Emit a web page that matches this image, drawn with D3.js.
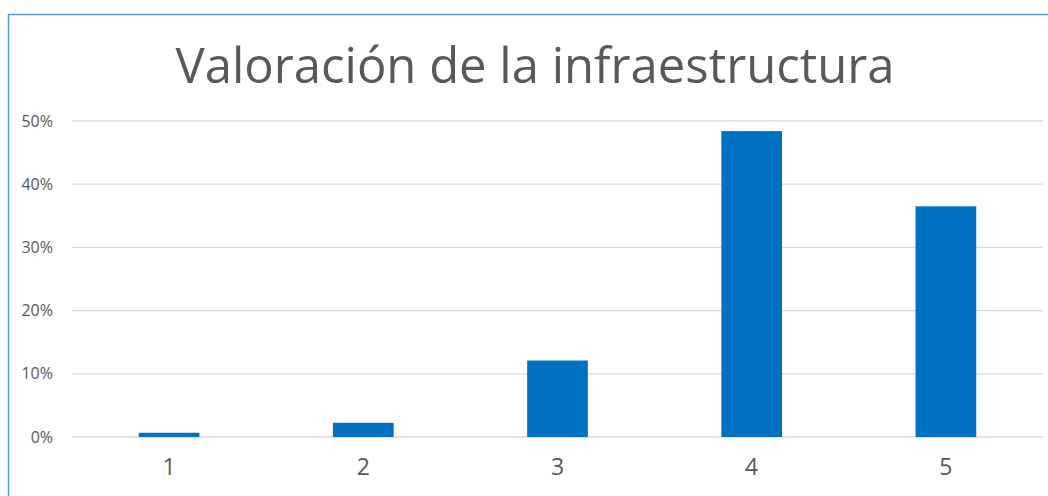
<!DOCTYPE html>
<html>
<head>
<meta charset="utf-8">
<script src="https://cdn.jsdelivr.net/npm/d3@7"></script>
<style>
  body { margin: 0; background: #fff; }
  text { font-family: "Open Sans", sans-serif; fill: #595959; }
</style>
</head>
<body>
<div class="svg_container"></div>
<script>
// chart data
var categories = ["1", "2", "3", "4", "5"];
var values = [0.0067, 0.0225, 0.121, 0.484, 0.365];
var yTicks = [0, 0.1, 0.2, 0.3, 0.4, 0.5];
var title = "Valoración de la infraestructura";

var W = 1048, H = 496;
var margin = {top: 121, right: 5, bottom: 59, left: 72};
var width = W - margin.left - margin.right;
var height = H - margin.top - margin.bottom;

var svg = d3.select(".svg_container").append("svg")
    .attr("width", W)
    .attr("height", H);

// outer frame (runs off the right/bottom edge)
svg.append("rect")
    .attr("x", 8.5).attr("y", 14.5)
    .attr("width", W + 10).attr("height", H + 10)
    .attr("fill", "none")
    .attr("stroke", "#5b9bd5")
    .attr("stroke-width", 1.5);

svg.append("text")
    .attr("x", 535)
    .attr("y", 83)
    .attr("text-anchor", "middle")
    .attr("font-size", "49px")
    .text(title);

var g = svg.append("g")
    .attr("transform", "translate(" + margin.left + "," + margin.top + ")");

var xScale = d3.scaleBand()
    .domain(categories)
    .range([0, width])
    .paddingInner(0.6875)
    .paddingOuter(0.34375);

var yScale = d3.scaleLinear()
    .domain([0, 0.5])
    .range([height, 0]);

// gridlines
g.selectAll(".grid")
    .data(yTicks)
    .enter().append("line")
    .attr("x1", 0).attr("x2", width)
    .attr("y1", function(d) { return yScale(d); })
    .attr("y2", function(d) { return yScale(d); })
    .attr("stroke", "#d9d9d9")
    .attr("stroke-width", 1.3);

// y axis labels
var yAxis = g.append("g")
    .call(d3.axisLeft(yScale).tickValues(yTicks).tickFormat(d3.format(".0%")).tickSize(0).tickPadding(19));
yAxis.select(".domain").remove();
yAxis.selectAll("text").attr("font-size", "16px").attr("fill", "#595959");

// x axis labels
var xAxis = g.append("g")
    .attr("transform", "translate(0," + height + ")")
    .call(d3.axisBottom(xScale).tickSize(0).tickPadding(22));
xAxis.select(".domain").remove();
xAxis.selectAll("text").attr("font-size", "23px").attr("fill", "#595959");

// bars
g.selectAll(".bar")
    .data(values)
    .enter().append("rect")
    .attr("class", "bar")
    .attr("x", function(d, i) { return xScale(categories[i]); })
    .attr("width", xScale.bandwidth())
    .attr("y", function(d) { return yScale(d); })
    .attr("height", function(d) { return height - yScale(d); })
    .attr("fill", "#0070c0");
</script>
</body>
</html>
